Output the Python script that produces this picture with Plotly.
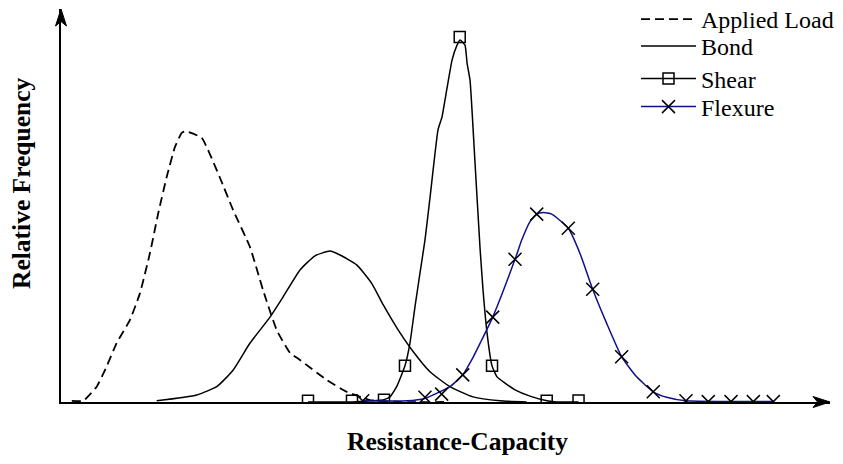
import plotly.graph_objects as go

# ---- data (arbitrary units: resistance-capacity 0-100, relative frequency 0-1) ----
load_x = [1.4, 2.9, 3.55, 4.64, 5.72, 7.24, 8.97, 10.27, 11.57, 12.65, 13.75, 14.82, 15.7, 16.2,
          18.3, 20.68, 22.37, 24.58, 26.27, 28.05, 29.78, 31.08, 34.55, 37.15, 40.18, 44.08, 50.2]
load_y = [0.003, 0.003, 0.015, 0.039, 0.081, 0.150, 0.209, 0.277, 0.379, 0.481, 0.573, 0.649, 0.685, 0.689,
          0.672, 0.570, 0.489, 0.394, 0.285, 0.183, 0.125, 0.107, 0.056, 0.026, 0.005, 0.0, 0.0]

bond_x = [12.44, 17.65, 20.25, 22.37, 24.58, 27.18, 28.87, 31.08, 33.03, 34.98, 36.28, 38.45, 40.40,
          41.91, 43.86, 45.81, 47.98, 50.58, 53.58, 57.09, 60.56]
bond_y = [0.003, 0.018, 0.039, 0.081, 0.150, 0.216, 0.267, 0.336, 0.372, 0.384, 0.374, 0.349, 0.302,
          0.247, 0.183, 0.128, 0.077, 0.039, 0.013, 0.003, 0.0]

shear_x = [32.12, 37.84, 38.88, 42.0, 42.78, 43.65, 44.73, 45.38, 46.03, 46.68, 47.33, 47.98, 49.02, 49.54,
           50.2, 50.85, 51.5, 51.89, 52.54, 52.8, 53.19, 53.84, 54.49, 54.88, 55.4, 56.05, 56.7, 57.74,
           59.04, 60.99, 63.2, 64.5, 67.3]
shear_y = [0.0, 0.0, 0.001, 0.006, 0.013, 0.039, 0.092, 0.150, 0.242, 0.328, 0.412, 0.519, 0.692, 0.725,
           0.799, 0.870, 0.908, 0.921, 0.908, 0.863, 0.819, 0.608, 0.392, 0.285, 0.176, 0.092, 0.064, 0.048,
           0.031, 0.015, 0.003, 0.0, 0.0]
shear_mx = [32.12, 37.84, 42.0, 44.73, 51.85, 56.05, 63.16, 67.3]
shear_my = [0.003, 0.003, 0.006, 0.092, 0.929, 0.092, 0.003, 0.004]

flex_x = [39.23, 44.95, 47.33, 49.28, 50.58, 52.24, 53.62, 54.49, 56.14, 59.04, 59.91, 60.99, 61.86, 62.72,
          63.81, 65.97, 67.49, 69.14, 70.96, 72.91, 74.86, 77.02, 78.76, 81.27, 87.0, 92.63]
flex_y = [0.003, 0.003, 0.009, 0.026, 0.039, 0.069, 0.115, 0.149, 0.216, 0.363, 0.412, 0.459, 0.478, 0.482,
          0.478, 0.442, 0.378, 0.287, 0.200, 0.115, 0.064, 0.026, 0.012, 0.003, 0.001, 0.001]
flex_mx = [39.23, 47.33, 49.5, 52.24, 56.14, 59.04, 61.86, 65.97, 69.14, 72.91, 77.02, 81.27, 84.17, 87.13,
           90.03, 92.63]
flex_my = [0.003, 0.012, 0.020, 0.069, 0.216, 0.363, 0.478, 0.442, 0.287, 0.115, 0.026, 0.003, 0.001, 0.001,
           0.001, 0.001]

names = ["Applied Load", "Bond", "Shear", "Flexure"]
x_title = "Resistance-Capacity"
y_title = "Relative Frequency"

BLACK = "#000000"
NAVY = "#10108c"
SERIF = "Liberation Serif, Times New Roman, serif"

# page has an 8px body margin; geometry below is in page pixels
OFF = 8
L, T = 53, 1
pw, ph = 769, 393
W, H = 835, 456
R, B = W - L - pw, H - T - ph


def fx(p):
    return (p - OFF - L) / pw


def fy(p):
    return (T + ph - (p - OFF)) / ph


fig = go.Figure()
fig.add_trace(go.Scatter(x=load_x, y=load_y, mode="lines", name=names[0], legend="legend",
                         line=dict(color=BLACK, width=1.8, dash="9px,5px", shape="spline", smoothing=0.4)))
fig.add_trace(go.Scatter(x=bond_x, y=bond_y, mode="lines", name=names[1], legend="legend2",
                         line=dict(color=BLACK, width=1.5, shape="spline", smoothing=0.5)))
# shear
fig.add_trace(go.Scatter(x=shear_x, y=shear_y, mode="lines", name=names[2], legendgroup="shear",
                         showlegend=False, line=dict(color=BLACK, width=1.5, shape="spline", smoothing=0.4)))
fig.add_trace(go.Scatter(x=shear_mx, y=shear_my, mode="markers", name=names[2], legendgroup="shear",
                         showlegend=False,
                         marker=dict(symbol="square-open", size=11, color=BLACK, line=dict(width=1.5, color=BLACK))))
fig.add_trace(go.Scatter(x=[None], y=[None], mode="lines+markers", name=names[2], legendgroup="shear",
                         legend="legend3", line=dict(color=BLACK, width=1.5),
                         marker=dict(symbol="square-open", size=11, color=BLACK, line=dict(width=1.5, color=BLACK))))
# flexure
fig.add_trace(go.Scatter(x=flex_x, y=flex_y, mode="lines", name=names[3], legendgroup="flex",
                         showlegend=False, line=dict(color=NAVY, width=1.5, shape="spline", smoothing=0.5)))
fig.add_trace(go.Scatter(x=flex_mx, y=flex_my, mode="markers", name=names[3], legendgroup="flex",
                         showlegend=False,
                         marker=dict(symbol="x-thin-open", size=13, color=BLACK, line=dict(width=1.5, color=BLACK))))
fig.add_trace(go.Scatter(x=[None], y=[None], mode="lines+markers", name=names[3], legendgroup="flex",
                         legend="legend4", line=dict(color=NAVY, width=1.5),
                         marker=dict(symbol="x-thin-open", size=13, color=BLACK, line=dict(width=1.5, color=BLACK))))

LEG_FONT = 24
LEG_OFF = 23  # legend top -> text centre
leg_centres = [20, 47, 79.5, 107.5]


def leg(c):
    return dict(x=fx(636), y=fy(c - LEG_OFF), xanchor="left", yanchor="top",
                bgcolor="rgba(0,0,0,0)", borderwidth=0, itemwidth=55,
                font=dict(family=SERIF, size=LEG_FONT, color=BLACK))


fig.update_layout(
    width=W, height=H,
    margin=dict(l=L, r=R, t=T, b=B, pad=0, autoexpand=False),
    paper_bgcolor="white", plot_bgcolor="white",
    font=dict(family=SERIF, color=BLACK, size=22),
    showlegend=True,
    legend=leg(leg_centres[0]),
    legend2=leg(leg_centres[1]),
    legend3=leg(leg_centres[2]),
    legend4=leg(leg_centres[3]),
    xaxis=dict(range=[0, 100], showline=True, linecolor=BLACK, linewidth=1.5, showgrid=False,
               zeroline=False, showticklabels=False, ticks="", fixedrange=True),
    yaxis=dict(range=[0, 1], showline=True, linecolor=BLACK, linewidth=1.5, showgrid=False,
               zeroline=False, showticklabels=False, ticks="", fixedrange=True),
    shapes=[
        dict(type="path", xref="paper", yref="paper", xsizemode="pixel", ysizemode="pixel",
             xanchor=0, yanchor=1, path="M0,0 L5.5,-17 L0,-12.5 L-5.5,-17 Z",
             fillcolor=BLACK, line=dict(color=BLACK, width=1)),
        dict(type="path", xref="paper", yref="paper", xsizemode="pixel", ysizemode="pixel",
             xanchor=1, yanchor=0, path="M0,0 L-17,5.5 L-12.5,0 L-17,-5.5 Z",
             fillcolor=BLACK, line=dict(color=BLACK, width=1)),
    ],
    annotations=[
        dict(text="<b>" + x_title + "</b>", xref="paper", yref="paper", x=fx(457), y=fy(441),
             xanchor="center", yanchor="middle", showarrow=False,
             font=dict(family=SERIF, size=25.5, color=BLACK)),
        dict(text="<b>" + y_title + "</b>", xref="paper", yref="paper", x=fx(22), y=fy(183),
             xanchor="center", yanchor="middle", showarrow=False, textangle=-90,
             font=dict(family=SERIF, size=25.5, color=BLACK)),
    ],
)

fig.write_html("out.html")
